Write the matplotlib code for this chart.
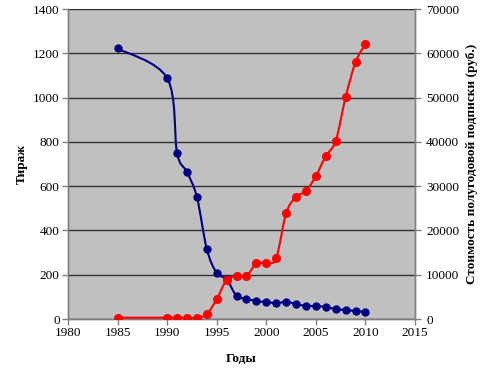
import numpy as np
import matplotlib
matplotlib.use("Agg")
import matplotlib.pyplot as plt
from matplotlib.path import Path
from matplotlib.patches import PathPatch

years_circ = [1985, 1990, 1991, 1992, 1993, 1994, 1995, 1996, 1997, 1998, 1999,
              2000, 2001, 2002, 2003, 2004, 2005, 2006, 2007, 2008, 2009, 2010]
circulation = [1222, 1088, 750, 664, 551, 316, 208, 180, 104, 92, 81,
               77, 72, 77, 68, 59, 59, 54, 45, 41, 36, 32]

years_price = [1985, 1990, 1991, 1992, 1993, 1994, 1995, 1996, 1997, 1998, 1999,
               2000, 2001, 2002, 2003, 2004, 2005, 2006, 2007, 2008, 2009, 2010]
price = [300, 300, 300, 300, 300, 1100, 4500, 8800, 9700, 9700, 12600,
         12600, 13800, 23900, 27600, 28900, 32300, 36800, 40200, 50100, 58000, 62100]

x_ticks = [1980, 1985, 1990, 1995, 2000, 2005, 2010, 2015]
left_ticks = [0, 200, 400, 600, 800, 1000, 1200, 1400]
right_ticks = [0, 10000, 20000, 30000, 40000, 50000, 60000, 70000]

FONT = ["Liberation Serif", "DejaVu Serif"]
plt.rcParams["font.family"] = FONT

fig = plt.figure(figsize=(4.99, 3.78), dpi=100)
ax = fig.add_axes([0.1363, 0.156, 0.6954, 0.820])
ax2 = ax.twinx()

ax.set_facecolor("#c0c0c0")
ax.set_xlim(1980, 2015)
ax.set_ylim(0, 1400)
ax2.set_ylim(0, 70000)
ax.set_xticks(x_ticks)
ax.set_yticks(left_ticks)
ax2.set_yticks(right_ticks)
ax.tick_params(labelsize=9.5, length=4, width=1, color="#808080", direction="out", pad=2)
ax2.tick_params(labelsize=9.5, length=4, width=1, color="#808080", direction="out", pad=4)
for a in (ax, ax2):
    for s in a.spines.values():
        s.set_color("#808080")
        s.set_linewidth(1)
    a.spines["top"].set_visible(False)
ax.yaxis.grid(True, color="#303030", linewidth=1)
ax.set_axisbelow(True)

fig.canvas.draw()


def smooth_path(a, xs, ys):
    pts = a.transData.transform(np.column_stack([xs, ys]))
    n = len(pts)
    verts = [pts[0]]
    codes = [Path.MOVETO]
    for i in range(n - 1):
        p0 = pts[i - 1] if i > 0 else pts[i]
        p1 = pts[i]
        p2 = pts[i + 1]
        p3 = pts[i + 2] if i + 2 < n else pts[i + 1]
        c1 = p1 + (p2 - p0) / 6.0
        c2 = p2 - (p3 - p1) / 6.0
        verts += [c1, c2, p2]
        codes += [Path.CURVE4] * 3
    verts = a.transData.inverted().transform(np.array(verts))
    return Path(verts, codes)


ax.add_patch(PathPatch(smooth_path(ax, years_circ, circulation), fill=False,
                       edgecolor="#000080", linewidth=1.5, zorder=3))
ax.plot(years_circ, circulation, linestyle="none", marker="o", markersize=5,
        color="#000080", zorder=4)
ax2.add_patch(PathPatch(smooth_path(ax2, years_price, price), fill=False,
                        edgecolor="#ff0000", linewidth=1.5, zorder=3))
ax2.plot(years_price, price, linestyle="none", marker="o", markersize=5.5,
         color="#ff0000", zorder=4)

ax.set_xlabel("Годы", fontsize=9.5, fontweight="bold", labelpad=10)
ax.set_ylabel("Тираж", fontsize=9.5, fontweight="bold", labelpad=4)
ax2.set_ylabel("Стоимость полугодовой подписки (руб.)", fontsize=9.5,
               fontweight="bold", labelpad=5)

fig.savefig("out.png", dpi=100)
